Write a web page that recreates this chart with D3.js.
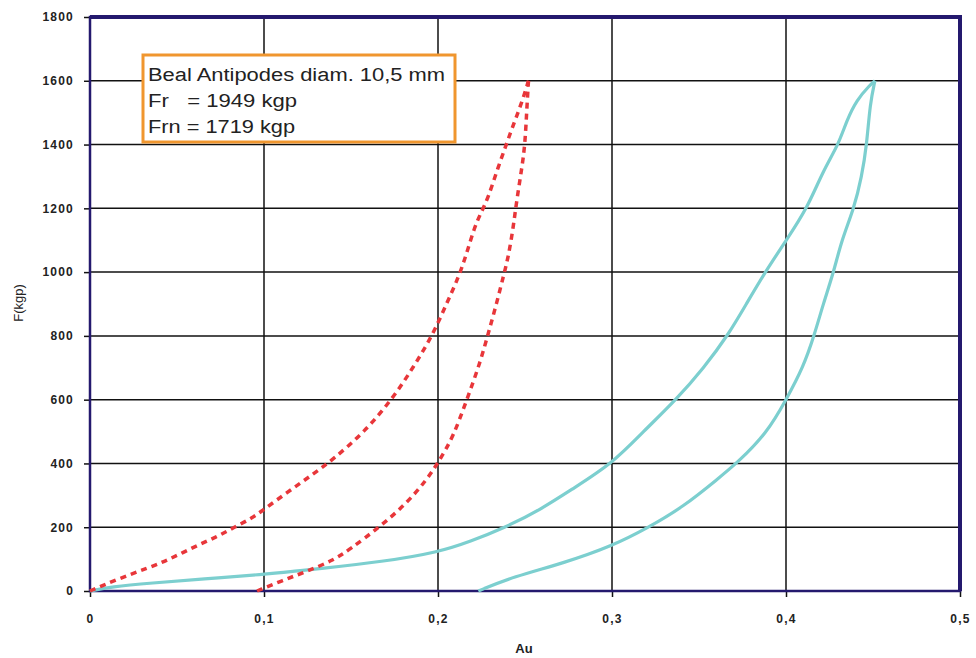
<html>
<script src='https://cdn.jsdelivr.net/npm/d3@7'></script>
<body style="margin:0;background:#ffffff;">
<svg id="chart" width="976" height="658"></svg>
<script>

// tick values
const duTicks = [0, 0.1, 0.2, 0.3, 0.4, 0.5];
const fTicks = [0, 200, 400, 600, 800, 1000, 1200, 1400, 1600, 1800];

// legend text
const legendLines = ["Beal Antipodes diam. 10,5 mm", "Fr   = 1949 kgp", "Frn = 1719 kgp"];

// red dashed loop: loading then unloading
const redLoadDu = [0, 0.017, 0.033, 0.046, 0.060, 0.073, 0.083, 0.093, 0.1, 0.113, 0.126, 0.139, 0.158, 0.174, 0.186, 0.197, 0.205, 0.212, 0.2165, 0.221, 0.225, 0.229, 0.234, 0.2395, 0.2443, 0.248, 0.252];
const redLoadF  = [0, 40, 71, 100, 139, 170, 200, 228, 256, 308, 358, 409, 500, 604, 703, 803, 902, 986, 1059, 1142, 1189, 1236, 1320, 1404, 1477, 1529, 1600];
const redUnloadDu = [0.252, 0.251, 0.25, 0.248, 0.245, 0.2433, 0.2405, 0.238, 0.2337, 0.2289, 0.2241, 0.2165, 0.2088, 0.2004, 0.1934, 0.182, 0.1667, 0.149, 0.14, 0.1245, 0.111, 0.096];
const redUnloadF  = [1600, 1508, 1398, 1320, 1216, 1142, 1050, 996, 902, 808, 714, 599, 484, 405, 348, 275, 202, 129, 97, 61, 34, 0];

// cyan loop
const cyanLoadDu = [0, 0.012, 0.035, 0.065, 0.1, 0.119, 0.13, 0.1686, 0.2004, 0.2184, 0.2385, 0.2586, 0.2778, 0.3002, 0.318, 0.3372, 0.3525, 0.3668, 0.3774, 0.3875, 0.4003, 0.4119, 0.4215, 0.43, 0.435, 0.4406, 0.4483, 0.4511];
const cyanLoadF  = [0, 13, 25, 38, 52, 63, 69, 92, 122, 155, 199, 254, 322, 400, 500, 602, 698, 803, 902, 996, 1101, 1197, 1320, 1398, 1477, 1540, 1587, 1600];
const cyanUnloadDu = [0.4511, 0.4483, 0.4464, 0.4435, 0.439, 0.432, 0.4272, 0.4215, 0.4163, 0.41, 0.4003, 0.3889, 0.3716, 0.3611, 0.341, 0.3209, 0.3002, 0.272, 0.2433, 0.2232];
const cyanUnloadF  = [1600, 1529, 1398, 1299, 1198, 1101, 996, 902, 803, 703, 602, 494, 400, 353, 264, 199, 141, 87, 45, 0];

const svg = d3.select('#chart');
const margin = { top: 17, right: 16, bottom: 67, left: 90 };
const width = 976 - margin.left - margin.right;
const height = 658 - margin.top - margin.bottom;

const x = d3.scaleLinear().domain([0, 0.5]).range([margin.left, margin.left + width]);
const y = d3.scaleLinear().domain([0, 1800]).range([margin.top + height, margin.top]);

const fmt = d => d3.format(".1f")(d).replace(".", ",").replace(/^0,0$/, "0");

// grid
svg.append("g")
    .selectAll("line")
    .data(fTicks.slice(1, -1))
    .enter()
    .append("line")
    .attr("x1", x(0)).attr("x2", x(0.5))
    .attr("y1", d => y(d)).attr("y2", d => y(d))
    .attr("stroke", "#111").attr("stroke-width", 1.5);

svg.append("g")
    .selectAll("line")
    .data(duTicks.slice(1, -1))
    .enter()
    .append("line")
    .attr("x1", d => x(d)).attr("x2", d => x(d))
    .attr("y1", y(0)).attr("y2", y(1800))
    .attr("stroke", "#111").attr("stroke-width", 1.5);

// axes
const yAxis = svg.append("g")
    .attr("transform", `translate(${margin.left}, 0)`)
    .call(d3.axisLeft(y).tickValues(fTicks).tickSize(6).tickPadding(10).tickFormat(d3.format("d")));
const xAxis = svg.append("g")
    .attr("transform", `translate(0, ${margin.top + height})`)
    .call(d3.axisBottom(x).tickValues(duTicks).tickSize(6).tickPadding(17).tickFormat(fmt));

[xAxis, yAxis].forEach(a => {
    a.select(".domain").remove();
    a.selectAll(".tick line").attr("stroke", "#111").attr("stroke-width", 1.5);
    a.selectAll("text")
        .attr("fill", "#222")
        .style("font-family", "'Liberation Sans', Arial, sans-serif")
        .style("font-weight", "bold")
        .style("font-size", "12px")
        .style("letter-spacing", "1.2px");
});

// plot border
svg.append("rect")
    .attr("x", x(0)).attr("y", y(1800))
    .attr("width", x(0.5) - x(0)).attr("height", y(0) - y(1800))
    .attr("fill", "none").attr("stroke", "#24196e").attr("stroke-width", 2.5);
svg.append("line")
    .attr("x1", x(0)).attr("x2", x(0.5) + 2)
    .attr("y1", y(1800)).attr("y2", y(1800))
    .attr("stroke", "#24196e").attr("stroke-width", 4);
svg.append("line")
    .attr("x1", x(0.5)).attr("x2", x(0.5))
    .attr("y1", y(1800)).attr("y2", y(0))
    .attr("stroke", "#24196e").attr("stroke-width", 4);

// curves
const line = d3.line()
    .x(d => x(d[0]))
    .y(d => y(d[1]))
    .curve(d3.curveBasis);

const zip = (a, b) => a.map((v, i) => [v, b[i]]);

svg.append("path")
    .attr("d", line(zip(cyanLoadDu, cyanLoadF)))
    .attr("fill", "none").attr("stroke", "#7ccfcf").attr("stroke-width", 3.2);
svg.append("path")
    .attr("d", line(zip(cyanUnloadDu, cyanUnloadF)))
    .attr("fill", "none").attr("stroke", "#7ccfcf").attr("stroke-width", 3.2);

svg.append("path")
    .attr("d", line(zip(redLoadDu, redLoadF)))
    .attr("fill", "none").attr("stroke", "#e8363a").attr("stroke-width", 3.5)
    .attr("stroke-dasharray", "6,5");
svg.append("path")
    .attr("d", line(zip(redUnloadDu, redUnloadF)))
    .attr("fill", "none").attr("stroke", "#e8363a").attr("stroke-width", 3.5)
    .attr("stroke-dasharray", "6,5");

// legend box
svg.append("rect")
    .attr("x", 143).attr("y", 55)
    .attr("width", 312).attr("height", 87)
    .attr("fill", "#ffffff").attr("stroke", "#f0962e").attr("stroke-width", 3);

const lineLengths = [297, 149, 147];
svg.append("g")
    .selectAll("text")
    .data(legendLines)
    .enter()
    .append("text")
    .attr("x", 148)
    .attr("y", (d, i) => 81 + i * 26)
    .attr("textLength", (d, i) => lineLengths[i])
    .attr("lengthAdjust", "spacingAndGlyphs")
    .style("font-family", "'Liberation Sans', Arial, sans-serif")
    .style("font-size", "18px")
    .style("white-space", "pre")
    .attr("fill", "#222")
    .text(d => d);

// axis titles
svg.append("text")
    .attr("x", 524).attr("y", 653)
    .attr("text-anchor", "middle")
    .style("font-family", "'Liberation Sans', Arial, sans-serif")
    .style("font-weight", "bold")
    .style("font-size", "13px")
    .attr("fill", "#222")
    .text("Au");

svg.append("text")
    .attr("transform", "translate(23, 303) rotate(-90)")
    .attr("text-anchor", "middle")
    .style("font-family", "'Liberation Sans', Arial, sans-serif")
    .style("font-size", "13px")
    .attr("fill", "#222")
    .text("F(kgp)");

</script>
</body>
</html>
